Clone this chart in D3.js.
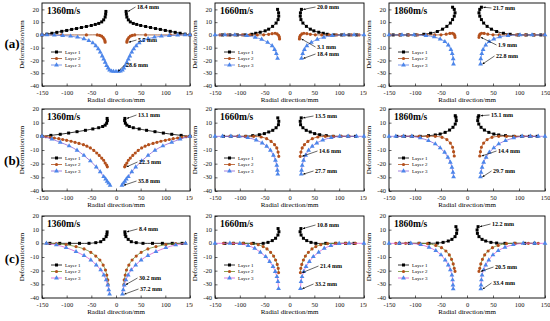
<!DOCTYPE html>
<html><head><meta charset="utf-8">
<script src="https://cdn.jsdelivr.net/npm/d3@7"></script>
<style>body{margin:0;background:#fff}svg{display:block;font-family:"Liberation Serif","Times New Roman",serif}</style>
</head><body><svg id="c" width="550" height="321"></svg>
<script>
// ---------- DATA (right-hand branch of each layer; profiles are symmetric about 0) ----------
const rowLabels = ["(a)", "(b)", "(c)"];
const speeds = ["1360m/s", "1660m/s", "1860m/s"];
const layerNames = ["Layer 1", "Layer 2", "Layer 3"];
const xTicks = [-150, -100, -50, 0, 50, 100, 150];
const yTicks = [-40, -30, -20, -10, 0, 10, 20];

const a1360_L1 = [[20.5,18.4],[21,16.2],[22,14],[25,11.8],[29,10.2],[35,9.0],[42,8.2],[50,7.4],[60,6.6],[70,5.8],[80,5.0],[90,4.3],[100,3.5],[110,2.8],[120,2.0],[130,1.3],[140,0.6],[150,0]];
const a1360_L2 = [[22,-5.7],[22.5,-4.5],[24,-3.2],[26,-2.0],[29,-1.0],[33,-0.4],[38,0],[60,0],[110,0],[150,0]];
const a1360_L3 = [[0,-28.6],[5,-28.6],[9,-28.4],[13,-27.5],[16,-26],[19,-24],[22,-21.5],[25,-19],[28,-16.5],[32,-13.5],[36,-11],[41,-8.5],[47,-6.3],[55,-4.5],[65,-3],[78,-1.8],[92,-1],[108,-0.5],[125,-0.2],[140,0],[150,0]];

const a1660_L1 = [[24,20.0],[22,17.3],[21.7,14.7],[23,12],[27,9.3],[34,6.7],[42,4.5],[49,3.2],[59,2.1],[68,1.3],[76,0.5],[90,0],[105,0],[120,0],[135,0]];
const a1660_L2 = [[20,-3.1],[20.5,-1.6],[22,-0.3],[25,0.8],[29,1.3],[35,1.0],[42,0.5],[52,0.1],[65,0],[80,0],[95,0],[110,0],[125,0],[140,0]];
const a1660_L3 = [[24,-18.4],[26.5,-14.7],[30,-11.5],[35,-8.5],[44,-5.9],[56,-3.5],[69,-1.9],[86,-0.5],[110,0],[130,0],[150,0]];

const a1860_L1 = [[27.7,21.7],[24.5,20],[23,17.3],[24.5,14.7],[27.7,12],[32,9.3],[38.7,6.7],[47,4.5],[57,2.7],[70,1.3],[83,0.5],[99,0],[114,0],[128,0],[142,0]];
const a1860_L2 = [[23,-1.9],[23.5,-0.5],[25,0.6],[28,1.3],[33,1.2],[40,0.6],[50,0.1],[62,0],[78,0],[95,0],[112,0],[130,0],[148,0]];
const a1860_L3 = [[26,-22.8],[26.5,-18.7],[28.4,-14.7],[31,-11.5],[36,-8],[42.6,-5.3],[51.6,-3.2],[63,-1.6],[79,-0.5],[102,0],[125,0],[150,0]];

const b1360_L1 = [[18,13.1],[17.5,11.5],[19,9.6],[22,8.2],[27,7.2],[35,6.3],[47,5.4],[62,4.4],[79,3.4],[96,2.4],[113,1.5],[132,0.7],[150,0]];
const b1360_L2 = [[17.5,-22.3],[19,-21],[22,-19.5],[25,-17.5],[29,-15.9],[34,-14],[39,-12.2],[45,-10.3],[52,-8.5],[59,-7.2],[66,-6.1],[75,-5.2],[83,-4.4],[91,-3.6],[100,-2.9],[108,-2.3],[116,-1.7],[125,-1.2],[133,-0.7],[142,-0.3],[150,0]];
const b1360_L3 = [[12,-35.8],[15,-34.3],[18,-33],[21,-31.3],[25,-29.5],[32,-26],[40,-22.5],[52,-18],[65,-14],[79,-10.2],[95,-7],[113,-4.4],[130,-2],[150,0]];

const b1660_L1 = [[23.6,13.5],[21.6,11],[22.3,8.5],[27,6.3],[33.7,4.4],[41.8,3.2],[50.6,2],[60.7,1.2],[74,0.5],[88,0],[103,0],[118,0],[133,0]];
const b1660_L2 = [[21.6,-14.6],[23,-11.5],[25.6,-8.5],[30,-6.1],[37,-3.7],[46,-1.7],[57,-0.5],[72,0],[88,0],[104,0],[120,0]];
const b1660_L3 = [[23.6,-27.7],[24.3,-24.9],[25.6,-21.2],[28.3,-17.6],[32.4,-13.9],[38.4,-10.2],[45.8,-7.3],[55,-4.9],[67,-2.7],[84,-1],[101,0],[118,0],[135,0],[150,0]];

const b1860_L1 = [[22.6,15.1],[21.3,13.9],[20.6,11.5],[22.6,9],[27,6.6],[33.5,4.6],[42,2.9],[51.6,1.7],[61,1],[74,0.5],[90,0],[105,0],[120,0],[135,0]];
const b1860_L2 = [[24.5,-14.4],[25.8,-11.2],[27.7,-8],[32,-4.9],[38.7,-2.4],[48,-0.7],[61,0],[76,0],[92,0],[108,0],[124,0]];
const b1860_L3 = [[25.8,-29.7],[27,-26.3],[29,-22.7],[32,-19],[36.8,-15.4],[43,-11.7],[51.6,-8.5],[61,-5.6],[74,-3.2],[90,-1.2],[106,0],[122,0],[137,0],[150,0]];

const c1360_L1 = [[18,8.4],[18.5,6.5],[20,4.9],[24.7,2.9],[31,1.2],[41,0.5],[54.7,0],[74,0],[94,0],[114,0],[134,0]];
const c1360_L2 = [[16,-30.2],[16.7,-26.8],[18.7,-23.2],[21.3,-19.5],[26,-15.9],[32.7,-12.2],[41,-9.3],[51,-6.6],[64.7,-4.1],[81,-2.4],[101,-1],[121,-0.2],[141,0]];
const c1360_L3 = [[13,-37.2],[14.7,-34],[16.7,-30.5],[20,-26.8],[24.7,-23.2],[31,-19.5],[40,-15.9],[51,-12.2],[64.7,-9],[81,-6.1],[101,-3.2],[121,-1.2],[141,0]];

const c1660_L1 = [[23,10.8],[21.3,8.5],[23.3,6.1],[28,3.7],[34.7,2],[43.3,0.7],[53,0],[73,0],[93,0],[113,0],[130,0]];
const c1660_L2 = [[22,-21.4],[22.7,-18.3],[24.7,-15.4],[28,-12.2],[32,-9.3],[38,-6.6],[45.3,-4.1],[53,-2.4],[63,-1],[76.7,-0.2],[93,0],[113,0],[133,0]];
const c1660_L3 = [[22,-33.2],[23.3,-28],[25.3,-24.4],[28.7,-20.7],[33.3,-17],[40,-13.4],[48,-9.8],[58.7,-6.6],[70,-3.7],[83.3,-1.7],[100,-0.2],[120,0],[150,0]];

const c1860_L1 = [[21.3,12.2],[19.4,9.8],[20,7.3],[23,4.9],[29,2.9],[36,1.7],[46,0.7],[57,0.2],[73,0],[92,0],[111,0],[130,0]];
const c1860_L2 = [[23,-20.5],[24.5,-18.3],[26.5,-15.1],[29.7,-11.7],[34,-8.5],[40.6,-5.6],[49,-3.2],[60,-1.5],[76,-0.2],[92,0],[118,0],[137,0]];
const c1860_L3 = [[26.5,-33.4],[27,-30.5],[27.7,-26.8],[29,-23.2],[32,-19.5],[36,-15.9],[41.9,-12.2],[50,-8.5],[60,-5.4],[73,-2.9],[89,-1],[108,0],[130,0],[150,0]];

const panels = [
  [[a1360_L1,a1360_L2,a1360_L3],[a1660_L1,a1660_L2,a1660_L3],[a1860_L1,a1860_L2,a1860_L3]],
  [[b1360_L1,b1360_L2,b1360_L3],[b1660_L1,b1660_L2,b1660_L3],[b1860_L1,b1860_L2,b1860_L3]],
  [[c1360_L1,c1360_L2,c1360_L3],[c1660_L1,c1660_L2,c1660_L3],[c1860_L1,c1860_L2,c1860_L3]]
];

// ---------- LAYOUT / STYLE ----------
const cols = [{left:42,w:148},{left:215,w:149},{left:389,w:156}];
const rows = [{top:3,h:83,dom:[-40,25]},{top:109,h:82,dom:[-40,20]},{top:216,h:82,dom:[-40,20]}];
const rowLabelY = [43, 160, 258];
const markerFill = ["#000000", "#b4501c", "#4c86ea"];
const lineColors = [
  ["#000000", "#9a4a22", "#5a7de6"],
  ["#000000", "#b0521e", "#8a63d8"],
  ["#000000", "#6f8a2a", "#d45ad2"]
];
const annPos = [
  [[[95,4],[96,37],[84,62]], [[102,4],[102,44],[102,51]], [[104,5],[109,42],[107,53]]],
  [[[96,6],[97,53],[96,72]], [[100,7],[104,42],[100,62]], [[102,6],[109,42],[104,62]]],
  [[[97,13],[97,62],[98,73]], [[102,9],[105,50],[100,68]], [[103,8],[106,51],[104,67]]]
];

const svg = d3.select("#c");
svg.append("defs").append("marker").attr("id","arr").attr("viewBox","0 0 10 10")
  .attr("refX",9).attr("refY",5).attr("markerWidth",4).attr("markerHeight",4).attr("orient","auto")
  .append("path").attr("d","M0,1L10,5L0,9z").attr("fill","#000");

rowLabels.forEach((t,r)=>{
  svg.append("text").attr("x",12).attr("y",rowLabelY[r]).attr("dy","0.35em")
    .attr("text-anchor","middle").attr("font-size",13).attr("font-weight","bold").text(t);
});

for (let c = 0; c < 3; c++) {
  for (let r = 0; r < 3; r++) {
    const col = cols[c], row = rows[r];
    if (c > 0) {
      svg.append("rect").attr("x", col.left - 22).attr("y", row.top - 3)
        .attr("width", col.w + 30).attr("height", row.h + 23).attr("fill", "#fff");
    }
    const g = svg.append("g").attr("transform", `translate(${col.left},${row.top})`);
    const xs = d3.scaleLinear().domain([-150,150]).range([0,col.w]);
    const ys = d3.scaleLinear().domain(row.dom).range([row.h,0]);

    // axes
    const xa = g.append("g").attr("transform",`translate(0,${row.h})`)
      .call(d3.axisBottom(xs).tickValues(xTicks).tickFormat(d=>String(d)).tickSizeInner(-2.5).tickSizeOuter(0).tickPadding(4));
    const ya = g.append("g")
      .call(d3.axisLeft(ys).tickValues(yTicks).tickFormat(d=>String(d)).tickSizeInner(-2.5).tickSizeOuter(0).tickPadding(3));
    [xa,ya].forEach(a=>{
      a.select(".domain").remove();
      a.selectAll("text").attr("font-size",6.5).attr("font-family",'"Liberation Serif",serif').attr("fill","#111");
      a.selectAll("line").attr("stroke","#000").attr("stroke-width",0.6);
    });
    ya.selectAll("text").attr("dy","0.25em");
    g.append("rect").attr("width",col.w).attr("height",row.h).attr("fill","none")
      .attr("stroke","#000").attr("stroke-width",0.9);

    // titles
    g.append("text").attr("x",col.w/2).attr("y",row.h+15.5).attr("text-anchor","middle")
      .attr("font-size",7).text("Radial direction/mm");
    g.append("text").attr("transform",`translate(-18,${row.h/2}) rotate(-90)`).attr("text-anchor","middle")
      .attr("font-size",7).text("Deformation/mm");
    g.append("text").attr("x",5).attr("y",11).attr("font-size",9.5).attr("font-weight","bold").text(speeds[c]);

    const line = d3.line().x(d=>xs(d[0])).y(d=>ys(d[1])).curve(d3.curveCatmullRom.alpha(0.5));
    const sym = [d3.symbolSquare, d3.symbolCircle, d3.symbolTriangle];
    const symSize = [9, 8, 10];

    panels[r][c].forEach((right, li) => {
      const left = right.filter(d=>d[0] > 0).map(d=>[-d[0], d[1]]);
      const continuous = right[0][0] === 0;
      const branches = continuous ? [left.slice().reverse().concat(right)] : [left, right];
      branches.forEach(b=>{
        g.append("path").attr("d", line(b)).attr("fill","none")
          .attr("stroke", lineColors[r][li]).attr("stroke-width", 0.8);
      });
      const pts = continuous ? branches[0] : left.concat(right);
      g.selectAll(null).data(pts).join("path")
        .attr("transform", d=>`translate(${xs(d[0])},${ys(d[1])})`)
        .attr("d", d3.symbol(sym[li], symSize[li])())
        .attr("fill", markerFill[li]);
    });

    // legend
    layerNames.forEach((n, li)=>{
      const yy = 49 + li*6.5;
      g.append("line").attr("x1",9).attr("x2",20).attr("y1",yy).attr("y2",yy)
        .attr("stroke", lineColors[r][li]).attr("stroke-width",0.8);
      g.append("path").attr("transform",`translate(14.5,${yy})`)
        .attr("d", d3.symbol(sym[li], symSize[li])())
        .attr("fill", markerFill[li]);
      g.append("text").attr("x",23).attr("y",yy).attr("dy","0.35em").attr("font-size",5).text(n);
    });

    // annotations (value read from the end point of each right branch)
    panels[r][c].forEach((right, li)=>{
      const p = right[0];
      const [tx, ty] = annPos[r][c][li];
      g.append("line").attr("x1",tx-1.5).attr("y1",ty).attr("x2",xs(p[0])+2).attr("y2",ys(p[1]))
        .attr("stroke","#000").attr("stroke-width",0.6).attr("marker-end","url(#arr)");
      g.append("text").attr("x",tx).attr("y",ty).attr("dy","0.35em").attr("font-size",6)
        .attr("font-weight","bold").text(Math.abs(p[1]).toFixed(1) + " mm");
    });
  }
}
</script></body></html>
